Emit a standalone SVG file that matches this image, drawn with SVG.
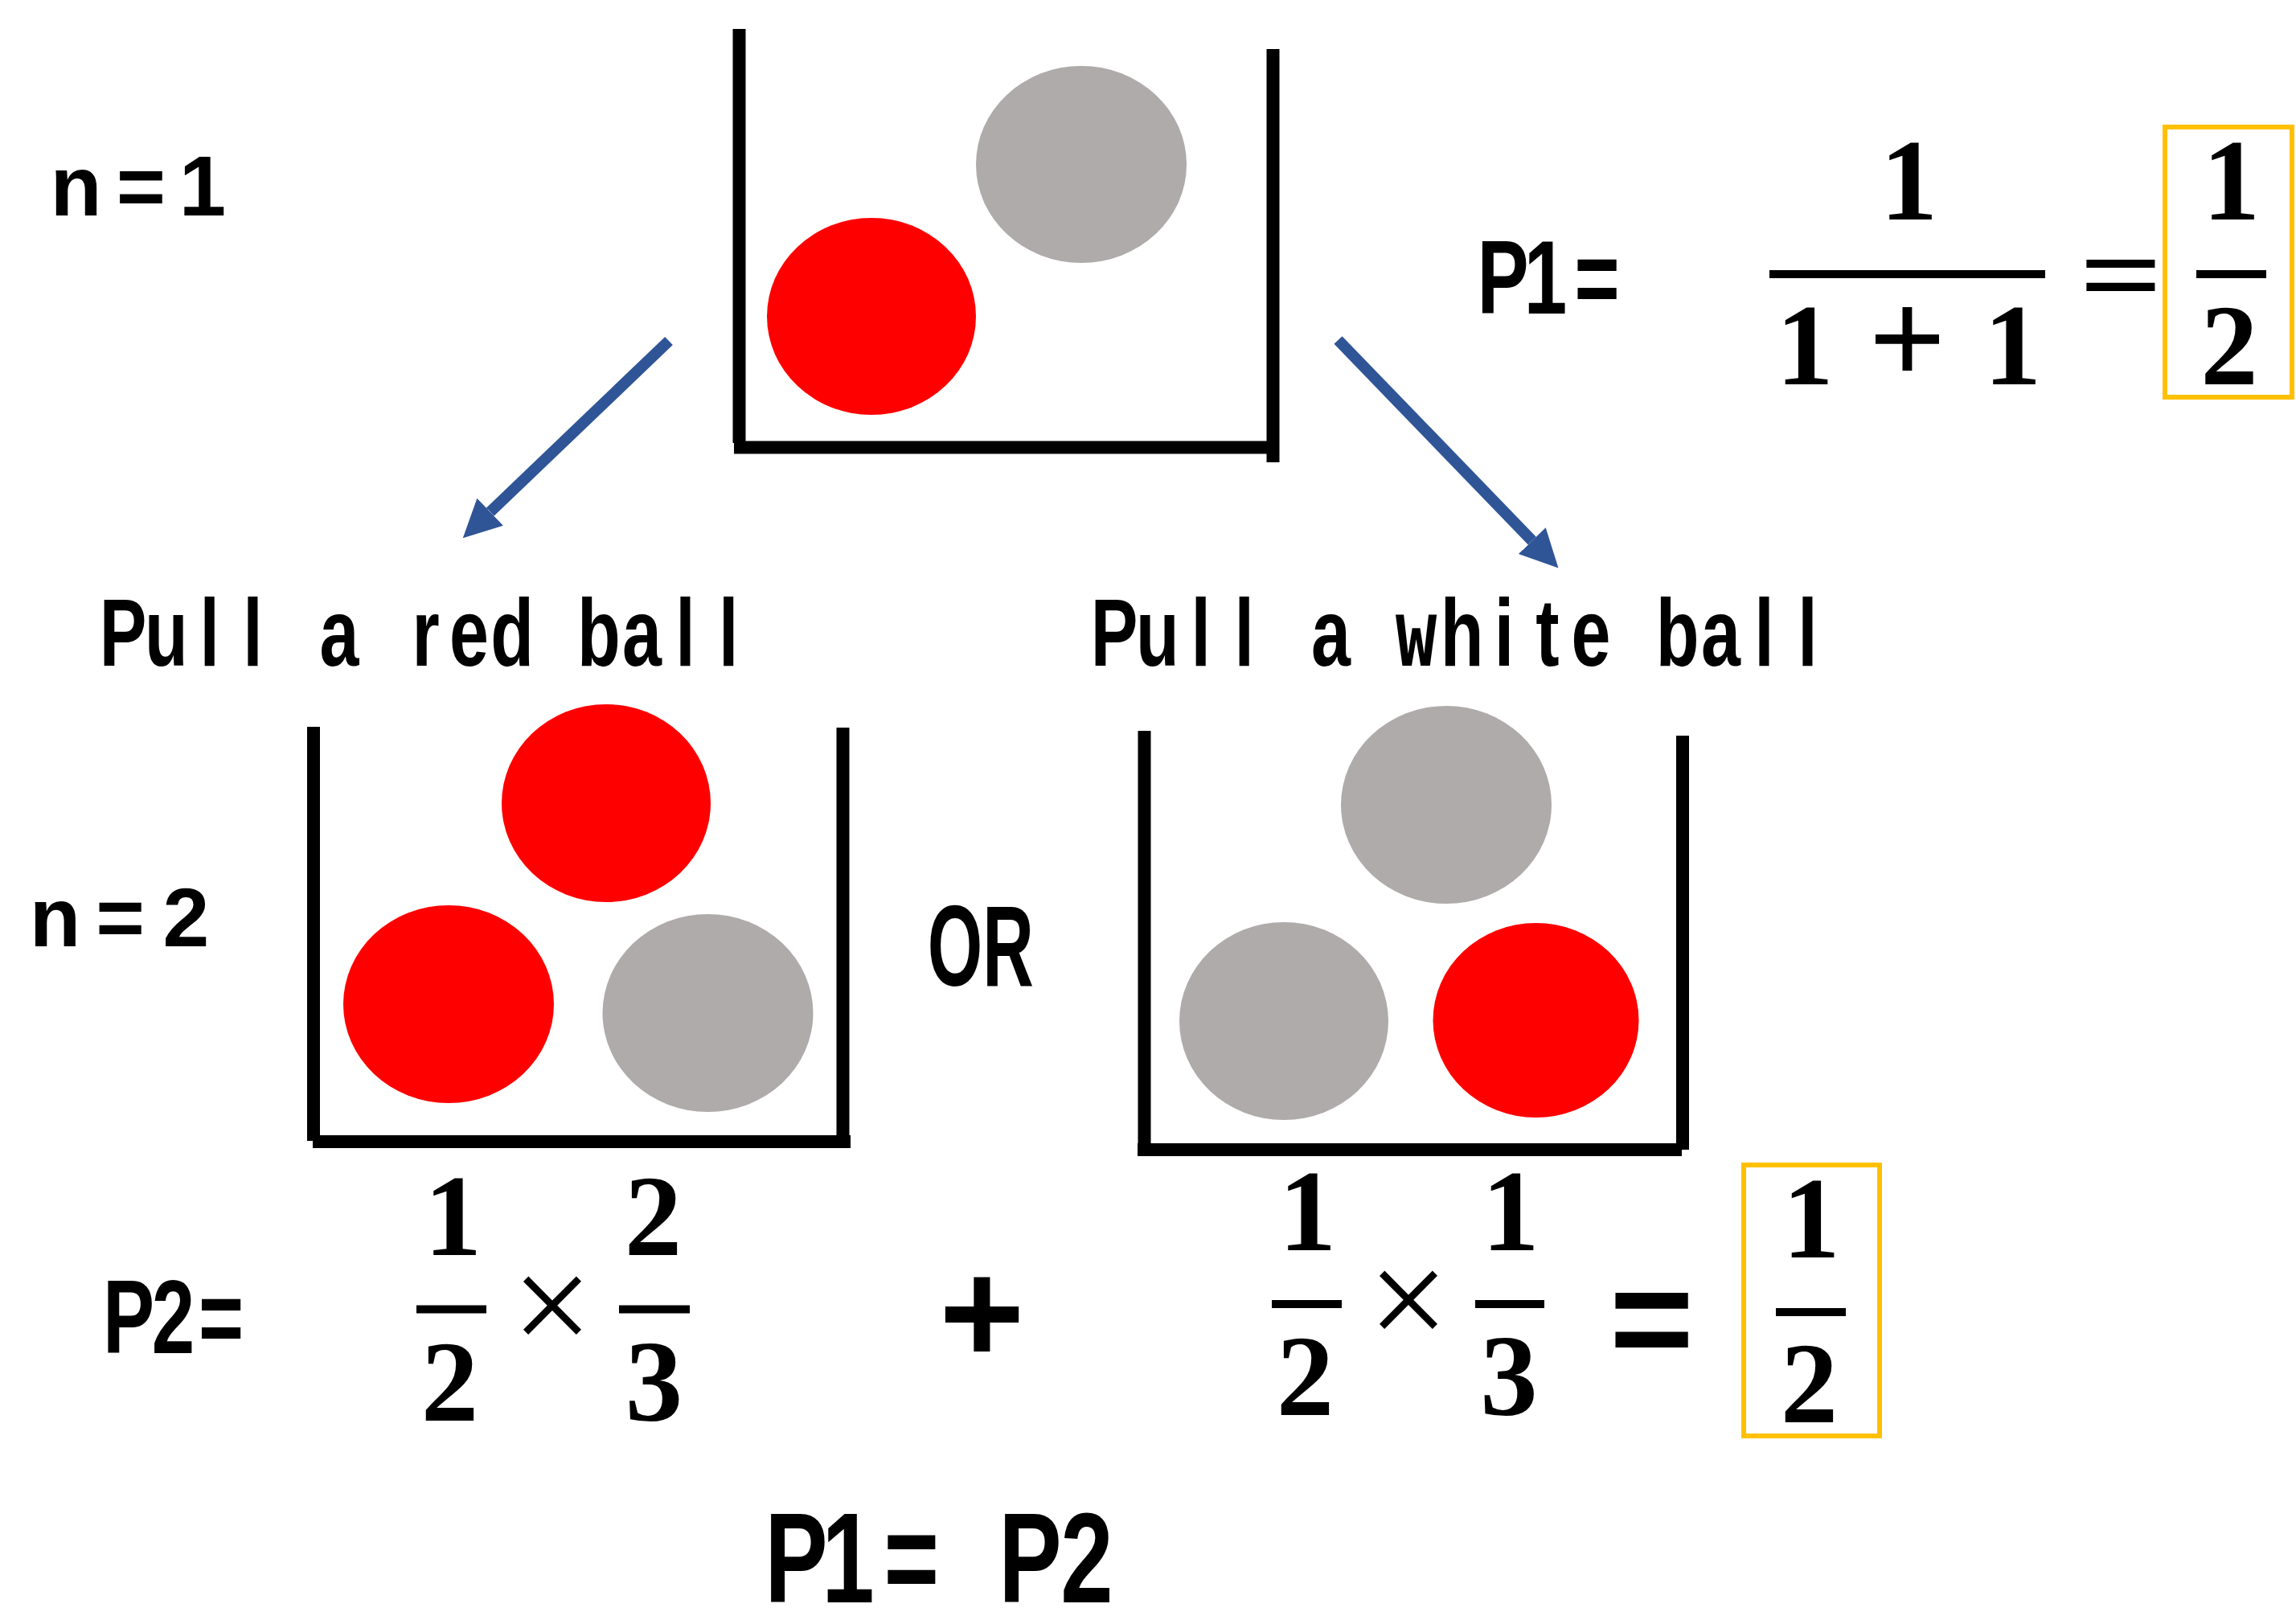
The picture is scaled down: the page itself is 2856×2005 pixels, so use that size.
<svg xmlns="http://www.w3.org/2000/svg" width="2856" height="2005" viewBox="0 0 2856 2005">
<defs>
<style>
.wall{stroke:#000;stroke-width:16;fill:none}
.floor{stroke:#000;stroke-width:16;fill:none}
.red{fill:#FF0000}
.grey{fill:#AFABAB}
.goth{font-family:"Liberation Sans",Arial,sans-serif;font-weight:bold;fill:#000;text-anchor:middle}
.math{font-family:"Liberation Serif","Times New Roman",serif;font-weight:bold;font-size:143px;fill:#000;text-anchor:middle}
.sym{font-family:"Liberation Serif","Times New Roman",serif;font-weight:normal;fill:#000;text-anchor:middle}
.bar{stroke:#000;stroke-width:10}
.box{fill:none;stroke:#FFC000;stroke-width:6}
.arrow{stroke:#2F5597;stroke-width:14;fill:none;marker-end:url(#head)}
</style>
<marker id="head" markerUnits="userSpaceOnUse" markerWidth="50" markerHeight="50" refX="0" refY="23.5" orient="auto">
<path d="M0,0 L47,23.5 L0,47 z" fill="#2F5597"/>
</marker>
</defs>
<rect width="2856" height="2005" fill="#fff"/>

<g id="label-n1">
<text class="goth" font-size="105" x="94.5 175.5 252" y="268">n=1</text>
</g>

<g id="urn-n1">
<line class="wall" x1="919.5" y1="36" x2="919.5" y2="551"/>
<line class="wall" x1="1583.5" y1="61" x2="1583.5" y2="575"/>
<line class="floor" x1="913" y1="556.5" x2="1577" y2="556.5"/>
<ellipse class="grey" cx="1345" cy="204.5" rx="131" ry="122.5"/>
<ellipse class="red" cx="1084" cy="393.5" rx="130" ry="122.5"/>
</g>

<g id="connectors">
<line class="arrow" x1="832" y1="424" x2="609.7" y2="636.8"/>
<line class="arrow" x1="1664.5" y1="423" x2="1905.8" y2="672.6"/>
</g>

<g id="formula-p1">
<text class="goth" font-size="130" transform="scale(0.74,1)" x="2526.4 2598 2684.5" y="390">P1=</text>
<text class="math" x="2374.5" y="273">1</text>
<line class="bar" x1="2201" y1="341" x2="2544" y2="341"/>
<text class="math" x="2245 2372.5 2503.5" y="478">1<tspan font-size="170">+</tspan>1</text>
<text class="math" font-size="160" transform="translate(2638.5,390) scale(1.28,1)" x="0" y="0">=</text>
<rect class="box" x="2693" y="158" width="158" height="336"/>
<text class="math" x="2775.5" y="273">1</text>
<line class="bar" x1="2732" y1="341" x2="2819" y2="341"/>
<text class="math" x="2773" y="478">2</text>
</g>

<g id="label-red">
<text class="goth" font-size="119" transform="scale(0.74,1)" x="206.8 279.5 352.2 424.9 497.6 570.3 643.0 715.7 788.4 861.1 933.8 1006.5 1079.2 1152.0 1224.7" y="828">Pull a red ball</text>
</g>

<g id="label-white">
<text class="goth" font-size="119" transform="scale(0.74,1)" x="1873.0 1945.8 2018.6 2091.5 2164.3 2237.2 2310.0 2380.5 2457.7 2528.5 2601.4 2674.2 2747.1 2819.9 2892.7 2965.6 3038.4" y="828">Pull a <tspan font-family="'DejaVu Sans Mono',monospace" font-size="115">w</tspan>hite ball</text>
</g>

<g id="label-n2">
<text class="goth" font-size="104" x="68.5 149.5 231.5" y="1177">n=2</text>
</g>

<g id="urn-red">
<line class="wall" x1="390" y1="904" x2="390" y2="1419"/>
<line class="wall" x1="1048.5" y1="905" x2="1048.5" y2="1412"/>
<line class="floor" x1="389" y1="1420" x2="1058" y2="1420"/>
<ellipse class="red" cx="754" cy="999" rx="130" ry="123"/>
<ellipse class="red" cx="558" cy="1249" rx="131" ry="123"/>
<ellipse class="grey" cx="880.5" cy="1260" rx="131" ry="123"/>
</g>

<g id="label-or">
<text class="goth" font-size="142" transform="scale(0.62,1)" x="1916.1 2022.6" y="1226">OR</text>
</g>

<g id="urn-white">
<line class="wall" x1="1423.5" y1="909" x2="1423.5" y2="1438"/>
<line class="wall" x1="2093" y1="915" x2="2093" y2="1430"/>
<line class="floor" x1="1415" y1="1430" x2="2092" y2="1430"/>
<ellipse class="grey" cx="1799" cy="1001" rx="131" ry="123"/>
<ellipse class="grey" cx="1597" cy="1270" rx="130" ry="123"/>
<ellipse class="red" cx="1910.5" cy="1269" rx="128" ry="121"/>
</g>

<g id="formula-p2">
<text class="goth" font-size="130" transform="scale(0.74,1)" x="216.2 291.2 371.6" y="1683">P2=</text>
<text class="math" x="563.5" y="1561">1</text>
<line class="bar" x1="518" y1="1628.5" x2="605" y2="1628.5"/>
<text class="math" x="559.5" y="1767">2</text>
<text class="sym" font-size="177" x="687" y="1683">×</text>
<text class="math" x="812.5" y="1561">2</text>
<line class="bar" x1="770" y1="1628.5" x2="858" y2="1628.5"/>
<text class="math" x="813.5" y="1767">3</text>
<text class="goth" font-size="182" x="1221.5" y="1695">+</text>
<text class="math" x="1626.5" y="1555">1</text>
<line class="bar" x1="1582" y1="1622" x2="1669" y2="1622"/>
<text class="math" x="1623.5" y="1760">2</text>
<text class="sym" font-size="177" x="1752" y="1676">×</text>
<text class="math" x="1879" y="1555">1</text>
<line class="bar" x1="1835" y1="1622" x2="1921" y2="1622"/>
<text class="math" x="1877" y="1760">3</text>
<text class="goth" font-size="180" x="2054.5" y="1702">=</text>
<rect class="box" x="2169" y="1449" width="169" height="337"/>
<text class="math" x="2253" y="1564">1</text>
<line class="bar" x1="2209" y1="1632" x2="2296" y2="1632"/>
<text class="math" x="2250.5" y="1769">2</text>
</g>

<g id="conclusion">
<text class="goth" font-size="159" transform="scale(0.74,1)" x="1338.5 1425.7 1532.4 1600 1731.8 1827.0" y="1993">P1= P2</text>
</g>
</svg>
